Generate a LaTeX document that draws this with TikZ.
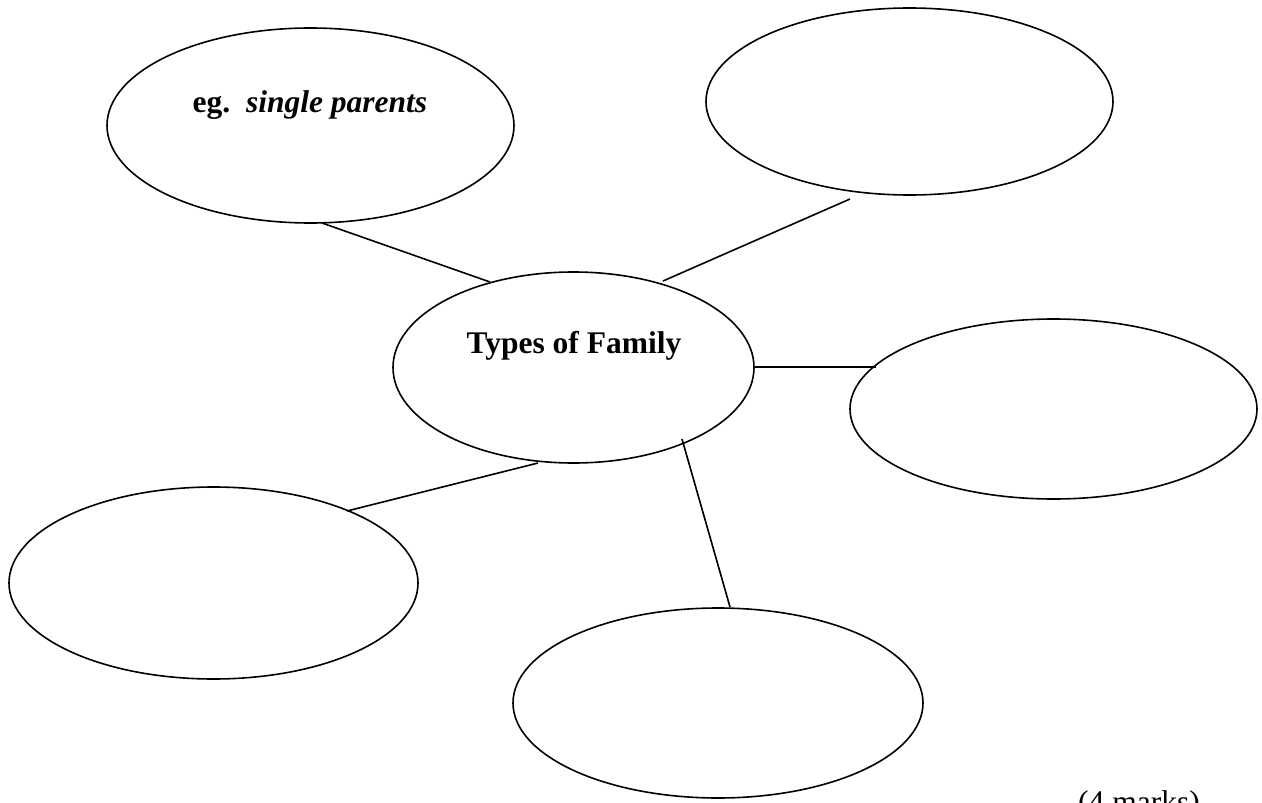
\documentclass[tikz,border=0pt]{standalone}
\usepackage{fontspec}
\setmainfont{Liberation Serif}
\usetikzlibrary{shapes.geometric}
\begin{document}
\begin{tikzpicture}[x=1pt,y=-1pt,
  bubble/.style={draw, ellipse, line width=1.6pt, inner sep=0pt},
  link/.style={line width=1.6pt},
  lbl/.style={font=\fontsize{31.5}{36}\selectfont, anchor=base, inner sep=0pt}]
\useasboundingbox (0,0) rectangle (1262,803);
% ellipses
\node[bubble, minimum width=407pt, minimum height=195pt] (tl) at (310.5,125.5) {};
\node[bubble, minimum width=407pt, minimum height=187pt] (tr) at (909.5,101.5) {};
\node[bubble, minimum width=361pt, minimum height=191pt] (c)  at (573.5,367.5) {};
\node[bubble, minimum width=407pt, minimum height=180pt] (r)  at (1053.5,409) {};
\node[bubble, minimum width=409pt, minimum height=192pt] (l)  at (213.5,583) {};
\node[bubble, minimum width=410pt, minimum height=190pt] (b)  at (718,703) {};
% texts
\node[lbl] (tltext) at (310,112) {\textbf{eg.}\ \ \textbf{\textit{single parents}}};
\node[lbl] (ctext) at (574,353) {\textbf{Types of Family}};
\node[lbl, anchor=base west] (marks) at (1078,812) {(4 marks)};
% connector ends
\coordinate (tlA) at (322,223);  \coordinate (tlB) at (490,282);
\coordinate (trA) at (850,199);  \coordinate (trB) at (663,281);
\coordinate (rA)  at (876,367);  \coordinate (rB)  at (755,367);
\coordinate (lA)  at (347,511);  \coordinate (lB)  at (538,463);
\coordinate (bA)  at (730,607);  \coordinate (bB)  at (682,439);
\draw[link] (tlA) -- (tlB);
\draw[link] (trA) -- (trB);
\draw[link] (rA) -- (rB);
\draw[link] (lA) -- (lB);
\draw[link] (bA) -- (bB);
\end{tikzpicture}
\end{document}
